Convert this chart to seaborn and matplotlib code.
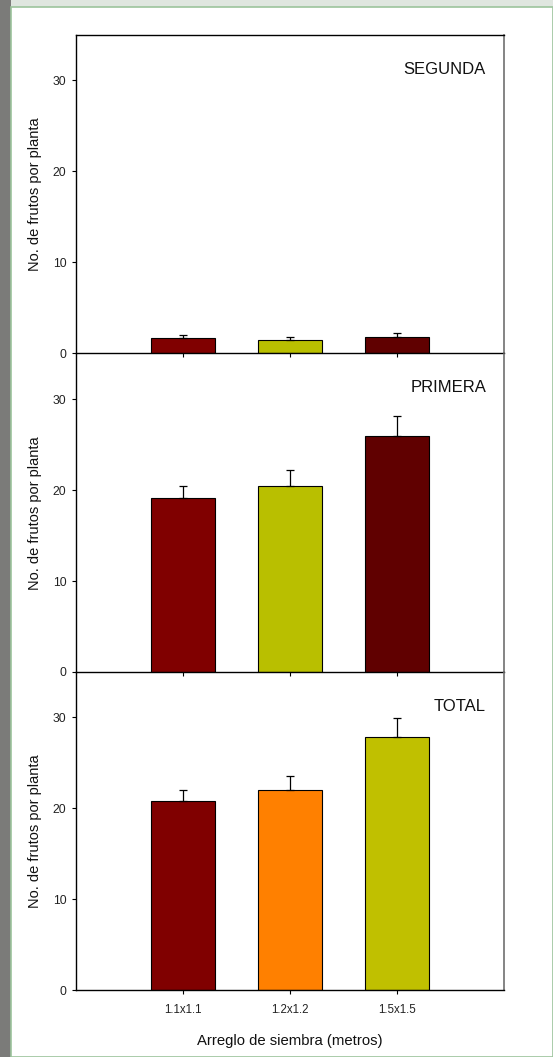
import matplotlib
matplotlib.use("Agg")
import matplotlib.pyplot as plt
import seaborn as sns
import numpy as np
import pandas as pd
from matplotlib.patches import Rectangle

# ---- data ----
categories = ["1.1x1.1", "1.2x1.2", "1.5x1.5"]
panel_names = ["SEGUNDA", "PRIMERA", "TOTAL"]
segunda_vals = [1.65, 1.5, 1.8]
segunda_err_top = [2.0, 1.83, 2.2]
primera_vals = [19.1, 20.4, 26.0]
primera_err_top = [20.5, 22.2, 28.2]
total_vals = [20.8, 22.0, 27.8]
total_err_top = [22.0, 23.6, 29.9]
segunda_colors = ["#800000", "#b9bf00", "#600000"]
primera_colors = ["#800000", "#b9bf00", "#600000"]
total_colors = ["#800000", "#ff8000", "#c0c000"]
yticks = [0, 10, 20, 30]

sns.set_theme(style="white")
plt.rcParams['font.family'] = ['Liberation Sans', 'DejaVu Sans']

W, H = 553, 1057
fig = plt.figure(figsize=(W / 100, H / 100), dpi=100)
fig.patch.set_facecolor("#dfe6df")

# slide-like background
fig.patches.append(Rectangle((0, 0), 11 / W, 1, transform=fig.transFigure,
                             facecolor="#7b7b79", edgecolor="none", zorder=-10))
fig.patches.append(Rectangle((11 / W, 0), 1 - 11 / W, (H - 7) / H, transform=fig.transFigure,
                             facecolor="white", edgecolor="#9cc49c", linewidth=1.2, zorder=-10))

left = 76 / W
width = 428 / W
ph = 318.3 / H
bottoms = [(H - 353.3) / H, (H - 672) / H, (H - 990.3) / H]

panels = [
    (segunda_vals, segunda_err_top, segunda_colors),
    (primera_vals, primera_err_top, primera_colors),
    (total_vals, total_err_top, total_colors),
]

for i, (vals, errtop, cols) in enumerate(panels):
    ax = fig.add_axes([left, bottoms[i], width, ph])
    ax.set_facecolor("none")
    df = pd.DataFrame({"cat": categories, "val": vals})
    sns.barplot(data=df, x="cat", y="val", hue="cat", palette=cols, width=0.6,
                saturation=1, edgecolor="black", linewidth=0.8, legend=False, ax=ax, zorder=2)
    xs = np.arange(len(categories))
    up = np.array(errtop) - np.array(vals)
    ax.errorbar(xs, vals, yerr=[np.zeros_like(up), up], fmt="none", ecolor="black",
                elinewidth=0.9, capsize=3, capthick=0.9, zorder=3)
    ax.set_xlim(-1, 3)
    ax.set_ylim(0, 35)
    ax.set_yticks(yticks)
    ax.set_yticklabels([str(t) for t in yticks], fontsize=8.7, color="#222222")
    ax.set_xticks(xs)
    ax.tick_params(axis="both", direction="out", length=3, width=0.8, color="black",
                   left=True, bottom=True, pad=4)
    if i == 2:
        ax.set_xticklabels(categories, fontsize=8.3, color="#222222")
        ax.tick_params(axis="x", pad=7)
        ax.set_xlabel("Arreglo de siembra (metros)", fontsize=10.7, color="#111111", labelpad=13)
    else:
        ax.set_xticklabels([])
        ax.set_xlabel("")
    ax.set_ylabel("No. de frutos por planta", fontsize=10.5, color="#111111", labelpad=8)
    for s in ["left", "bottom", "top"]:
        ax.spines[s].set_color("black")
        ax.spines[s].set_linewidth(1.0)
    ax.spines["right"].set_color("#707070")
    ax.spines["right"].set_linewidth(1.2)
    if i > 0:
        ax.spines["top"].set_visible(False)
    ax.text(0.958, 0.893, panel_names[i], transform=ax.transAxes, ha="right", va="center",
            fontsize=12, color="#111111")

fig.savefig("out.png", dpi=100, facecolor=fig.get_facecolor())
